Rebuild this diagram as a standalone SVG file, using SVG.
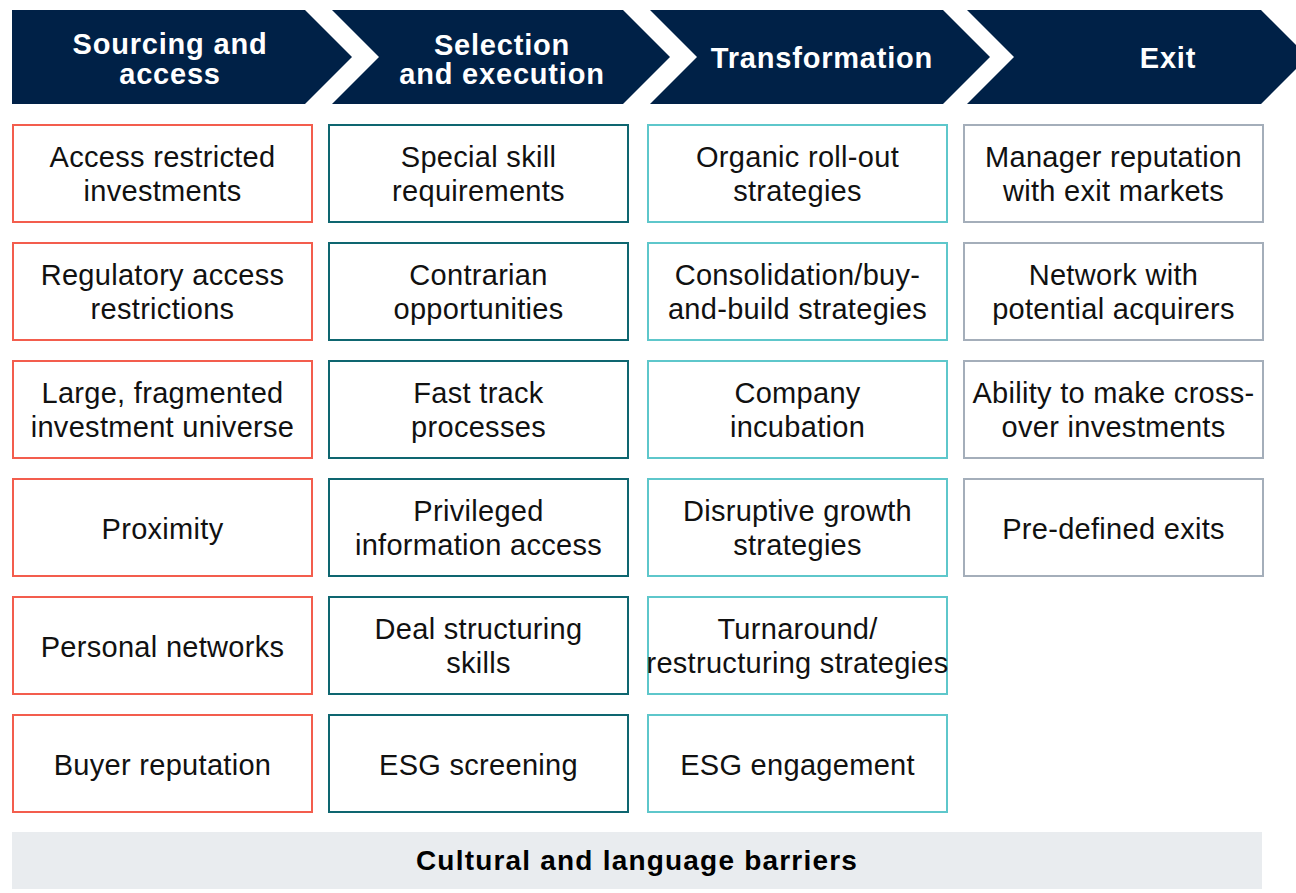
<svg xmlns="http://www.w3.org/2000/svg" width="1296" height="893" viewBox="0 0 1296 893">
  <style>
    .stage { fill: #002147; }
    .stage-label { font-family: "Liberation Sans", Arial, sans-serif; font-weight: bold; font-size: 29px; fill: #ffffff; text-anchor: middle; letter-spacing: 0.8px; }
    .box { fill: #ffffff; stroke-width: 2; }
    .c1 { stroke: #F35D4D; }
    .c2 { stroke: #0E6670; }
    .c3 { stroke: #5EC7CB; }
    .c4 { stroke: #A4AEBA; }
    .label { font-family: "Liberation Sans", Arial, sans-serif; font-size: 29px; fill: #111111; text-anchor: middle; letter-spacing: 0.3px; }
    .bar { fill: #E9ECEF; }
    .bar-label { font-family: "Liberation Sans", Arial, sans-serif; font-weight: bold; font-size: 28px; fill: #000000; text-anchor: middle; letter-spacing: 1.2px; }
  </style>

  <!-- Process stages (chevrons) -->
  <g id="stage-sourcing">
    <path class="stage" d="M12,10 L305,10 L352,57 L305,104 L12,104 Z"/>
    <text class="stage-label" x="170" y="54">Sourcing and</text>
    <text class="stage-label" x="170" y="84">access</text>
  </g>
  <g id="stage-selection">
    <path class="stage" d="M332,10 L623,10 L670,57 L623,104 L332,104 L379,57 Z"/>
    <text class="stage-label" x="502" y="55">Selection</text>
    <text class="stage-label" x="502" y="84">and execution</text>
  </g>
  <g id="stage-transformation">
    <path class="stage" d="M650,10 L943,10 L990,57 L943,104 L650,104 L697,57 Z"/>
    <text class="stage-label" x="822" y="68">Transformation</text>
  </g>
  <g id="stage-exit">
    <path class="stage" d="M967,10 L1261,10 L1308,57 L1261,104 L967,104 L1014,57 Z"/>
    <text class="stage-label" x="1168" y="68">Exit</text>
  </g>

  <!-- Column 1: sourcing and access -->
  <g id="s1">
    <rect class="box c1" x="13" y="125" width="299" height="97"/>
    <text class="label" x="162.5" y="167">Access restricted</text>
    <text class="label" x="162.5" y="201">investments</text>
  </g>
  <g id="s2">
    <rect class="box c1" x="13" y="243" width="299" height="97"/>
    <text class="label" x="162.5" y="285">Regulatory access</text>
    <text class="label" x="162.5" y="319">restrictions</text>
  </g>
  <g id="s3">
    <rect class="box c1" x="13" y="361" width="299" height="97"/>
    <text class="label" x="162.5" y="403">Large, fragmented</text>
    <text class="label" x="162.5" y="437">investment universe</text>
  </g>
  <g id="s4">
    <rect class="box c1" x="13" y="479" width="299" height="97"/>
    <text class="label" x="162.5" y="539">Proximity</text>
  </g>
  <g id="s5">
    <rect class="box c1" x="13" y="597" width="299" height="97"/>
    <text class="label" x="162.5" y="657">Personal networks</text>
  </g>
  <g id="s6">
    <rect class="box c1" x="13" y="715" width="299" height="97"/>
    <text class="label" x="162.5" y="775">Buyer reputation</text>
  </g>

  <!-- Column 2: selection and execution -->
  <g id="e1">
    <rect class="box c2" x="329" y="125" width="299" height="97"/>
    <text class="label" x="478.5" y="167">Special skill</text>
    <text class="label" x="478.5" y="201">requirements</text>
  </g>
  <g id="e2">
    <rect class="box c2" x="329" y="243" width="299" height="97"/>
    <text class="label" x="478.5" y="285">Contrarian</text>
    <text class="label" x="478.5" y="319">opportunities</text>
  </g>
  <g id="e3">
    <rect class="box c2" x="329" y="361" width="299" height="97"/>
    <text class="label" x="478.5" y="403">Fast track</text>
    <text class="label" x="478.5" y="437">processes</text>
  </g>
  <g id="e4">
    <rect class="box c2" x="329" y="479" width="299" height="97"/>
    <text class="label" x="478.5" y="521">Privileged</text>
    <text class="label" x="478.5" y="555">information access</text>
  </g>
  <g id="e5">
    <rect class="box c2" x="329" y="597" width="299" height="97"/>
    <text class="label" x="478.5" y="639">Deal structuring</text>
    <text class="label" x="478.5" y="673">skills</text>
  </g>
  <g id="e6">
    <rect class="box c2" x="329" y="715" width="299" height="97"/>
    <text class="label" x="478.5" y="775">ESG screening</text>
  </g>

  <!-- Column 3: transformation -->
  <g id="t1">
    <rect class="box c3" x="648" y="125" width="299" height="97"/>
    <text class="label" x="797.5" y="167">Organic roll-out</text>
    <text class="label" x="797.5" y="201">strategies</text>
  </g>
  <g id="t2">
    <rect class="box c3" x="648" y="243" width="299" height="97"/>
    <text class="label" x="797.5" y="285">Consolidation/buy-</text>
    <text class="label" x="797.5" y="319">and-build strategies</text>
  </g>
  <g id="t3">
    <rect class="box c3" x="648" y="361" width="299" height="97"/>
    <text class="label" x="797.5" y="403">Company</text>
    <text class="label" x="797.5" y="437">incubation</text>
  </g>
  <g id="t4">
    <rect class="box c3" x="648" y="479" width="299" height="97"/>
    <text class="label" x="797.5" y="521">Disruptive growth</text>
    <text class="label" x="797.5" y="555">strategies</text>
  </g>
  <g id="t5">
    <rect class="box c3" x="648" y="597" width="299" height="97"/>
    <text class="label" x="797.5" y="639">Turnaround/</text>
    <text class="label" x="797.5" y="673">restructuring strategies</text>
  </g>
  <g id="t6">
    <rect class="box c3" x="648" y="715" width="299" height="97"/>
    <text class="label" x="797.5" y="775">ESG engagement</text>
  </g>

  <!-- Column 4: exit -->
  <g id="x1">
    <rect class="box c4" x="964" y="125" width="299" height="97"/>
    <text class="label" x="1113.5" y="167">Manager reputation</text>
    <text class="label" x="1113.5" y="201">with exit markets</text>
  </g>
  <g id="x2">
    <rect class="box c4" x="964" y="243" width="299" height="97"/>
    <text class="label" x="1113.5" y="285">Network with</text>
    <text class="label" x="1113.5" y="319">potential acquirers</text>
  </g>
  <g id="x3">
    <rect class="box c4" x="964" y="361" width="299" height="97"/>
    <text class="label" x="1113.5" y="403">Ability to make cross-</text>
    <text class="label" x="1113.5" y="437">over investments</text>
  </g>
  <g id="x4">
    <rect class="box c4" x="964" y="479" width="299" height="97"/>
    <text class="label" x="1113.5" y="539">Pre-defined exits</text>
  </g>

  <!-- Cross-cutting barrier -->
  <g id="barrier">
    <rect class="bar" x="12" y="832" width="1250" height="57"/>
    <text class="bar-label" x="637" y="870">Cultural and language barriers</text>
  </g>

  <g id="connectors"/>
</svg>
